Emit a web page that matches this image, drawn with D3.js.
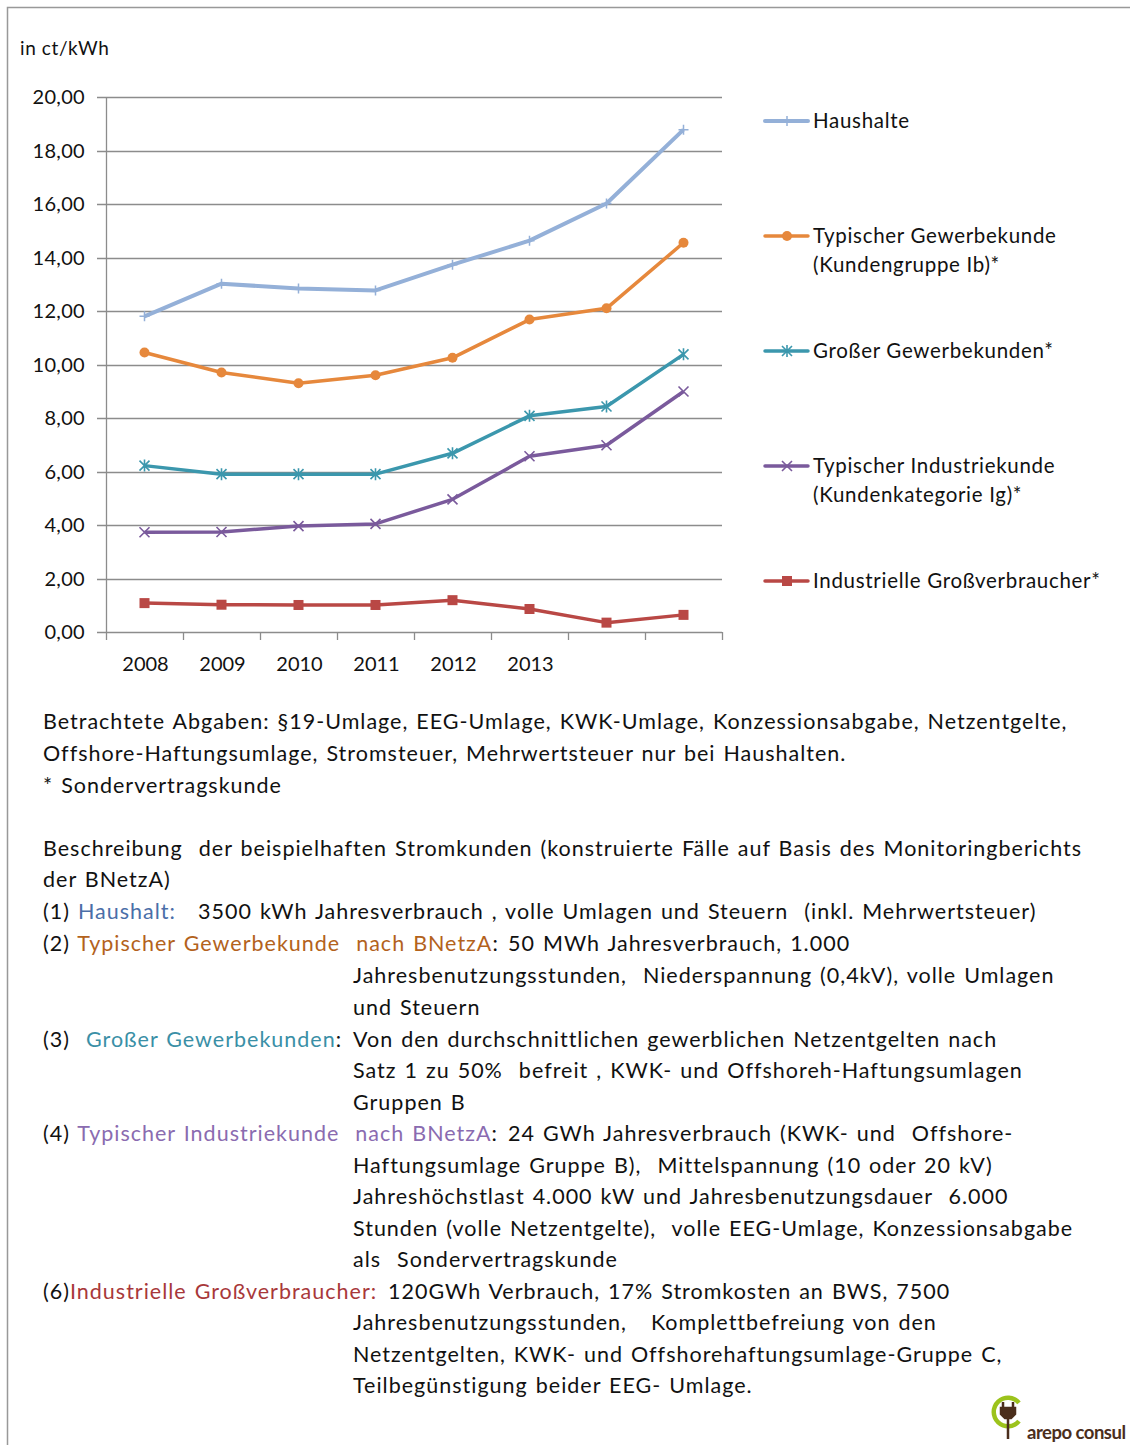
<!DOCTYPE html>
<html>
<head>
<meta charset="utf-8">
<script src="https://cdn.jsdelivr.net/npm/d3@7"></script>
<style>
  body { margin: 0; background: #fff; }
  svg text { font-family: Lato, "Open Sans", sans-serif; fill: #111; white-space: pre; }
</style>
</head>
<body>
<div id="chart"></div>
<script>
// values (ct/kWh)
var years = ["2008", "2009", "2010", "2011", "2012", "2013", "2014", "2015"];
var yearLabels = ["2008", "2009", "2010", "2011", "2012", "2013", "", ""];
var haushalte = [11.8, 13.02, 12.84, 12.77, 13.73, 14.63, 16.02, 18.78];
var gewerbe = [10.45, 9.7, 9.3, 9.6, 10.25, 11.68, 12.1, 14.55];
var grosserGewerbe = [6.22, 5.9, 5.9, 5.9, 6.68, 8.08, 8.43, 10.38];
var industrie = [3.73, 3.74, 3.96, 4.04, 4.96, 6.57, 6.98, 8.99];
var grossverbraucher = [1.08, 1.02, 1.01, 1.01, 1.19, 0.86, 0.35, 0.64];
var yTicks = [0, 2, 4, 6, 8, 10, 12, 14, 16, 18, 20];

var series = [
  {name: ["Haushalte"], values: haushalte, color: "#94b0d8", marker: "plus", width: 4},
  {name: ["Typischer Gewerbekunde", "(Kundengruppe Ib)*"], values: gewerbe, color: "#e6883c", marker: "circle", width: 3.5},
  {name: ["Großer Gewerbekunden*"], values: grosserGewerbe, color: "#3b97ad", marker: "star", width: 3.5},
  {name: ["Typischer Industriekunde", "(Kundenkategorie Ig)*"], values: industrie, color: "#7a5a9c", marker: "x", width: 3.5},
  {name: ["Industrielle Großverbraucher*"], values: grossverbraucher, color: "#b94845", marker: "square", width: 3.5}
];
var legendY = [121, 236, 351, 466, 581];

var W = 1130, H = 1445;
var svg = d3.select("#chart").append("svg")
    .attr("width", W)
    .attr("height", H);

// frame
svg.append("path")
  .attr("d", "M7.5,1445 L7.5,7.5 L1130,7.5")
  .attr("fill", "none")
  .attr("stroke", "#999")
  .attr("stroke-width", 1.5);

var x = d3.scaleBand().domain(years).range([106, 722]);
var y = d3.scaleLinear().domain([0, 20]).range([632, 97]);

// gridlines
svg.append("g")
  .selectAll("line")
  .data(yTicks)
  .enter()
  .append("line")
    .attr("x1", 97)
    .attr("x2", 722)
    .attr("y1", function(d) { return Math.round(y(d)) + 0.5; })
    .attr("y2", function(d) { return Math.round(y(d)) + 0.5; })
    .attr("stroke", "#8c8c8c")
    .attr("stroke-width", 1.3);

// y axis line
svg.append("line")
  .attr("x1", 106.5).attr("x2", 106.5)
  .attr("y1", y(20)).attr("y2", y(0))
  .attr("stroke", "#8c8c8c").attr("stroke-width", 1.3);

// y tick labels
svg.append("g")
  .selectAll("text")
  .data(yTicks)
  .enter()
  .append("text")
    .attr("x", 85)
    .attr("y", function(d) { return y(d) + 7; })
    .attr("text-anchor", "end")
    .style("font-size", "20px")
    .style("letter-spacing", "0.3px")
    .text(function(d) { return d3.format(".2f")(d).replace(".", ","); });

// x ticks at category boundaries
var bounds = years.map(function(d) { return x(d); }).concat([x.range()[1]]);
svg.append("g")
  .selectAll("line")
  .data(bounds)
  .enter()
  .append("line")
    .attr("x1", function(d) { return Math.round(d) + 0.5; })
    .attr("x2", function(d) { return Math.round(d) + 0.5; })
    .attr("y1", y(0))
    .attr("y2", y(0) + 8)
    .attr("stroke", "#8c8c8c").attr("stroke-width", 1.3);

svg.append("g")
  .selectAll("text")
  .data(years)
  .enter()
  .append("text")
    .attr("x", function(d) { return x(d) + x.bandwidth() / 2 + 1; })
    .attr("y", 671)
    .attr("text-anchor", "middle")
    .style("font-size", "20px")
    .text(function(d, i) { return yearLabels[i]; });

svg.append("text")
  .attr("x", 20)
  .attr("y", 55)
  .style("font-size", "19px")
  .style("letter-spacing", "0.6px")
  .text("in ct/kWh");

function drawMarker(g, type, color, cx, cy) {
  if (type == "circle") {
    g.append("circle").attr("cx", cx).attr("cy", cy).attr("r", 5).attr("fill", color);
  } else if (type == "square") {
    g.append("rect").attr("x", cx - 5).attr("y", cy - 5).attr("width", 10).attr("height", 10).attr("fill", color);
  } else if (type == "plus") {
    g.append("path").attr("d", "M" + (cx - 5) + "," + cy + "h10M" + cx + "," + (cy - 5) + "v10")
      .attr("stroke", color).attr("stroke-width", 1.5);
  } else if (type == "x") {
    g.append("path").attr("d", "M" + (cx - 5) + "," + (cy - 5) + "l10,10M" + (cx - 5) + "," + (cy + 5) + "l10,-10")
      .attr("stroke", color).attr("stroke-width", 1.6);
  } else if (type == "star") {
    g.append("path").attr("d", "M" + (cx - 5) + "," + (cy - 5) + "l10,10M" + (cx - 5) + "," + (cy + 5) + "l10,-10M" + cx + "," + (cy - 6) + "v12")
      .attr("stroke", color).attr("stroke-width", 1.6);
  }
}

var line = d3.line()
  .x(function(d, i) { return x(years[i]) + x.bandwidth() / 2; })
  .y(function(d) { return y(d); });

series.forEach(function(s, k) {
  var g = svg.append("g");
  g.append("path")
    .datum(s.values)
    .attr("fill", "none")
    .attr("stroke", s.color)
    .attr("stroke-width", s.width)
    .attr("stroke-linejoin", "round")
    .attr("d", line);
  s.values.forEach(function(v, i) {
    drawMarker(g, s.marker, s.color, x(years[i]) + x.bandwidth() / 2, y(v));
  });

  // legend
  var ly = legendY[k];
  var lg = svg.append("g");
  lg.append("line")
    .attr("x1", 765).attr("x2", 808)
    .attr("y1", ly).attr("y2", ly)
    .attr("stroke", s.color).attr("stroke-width", s.width)
    .attr("stroke-linecap", "round");
  drawMarker(lg, s.marker, s.color, 787, ly);
  s.name.forEach(function(t, j) {
    lg.append("text")
      .attr("x", 813)
      .attr("y", ly + 7 + j * 29)
      .style("font-size", "20.5px")
      .style("letter-spacing", "0.7px")
      .text(t);
  });
});

// notes below the chart
var cBlue = "#4a6ea8", cBrown = "#b3621c", cTeal = "#3a8fa6", cPurple = "#8a6bb0", cRed = "#a8383a";
var notes = [
  {y: 722, parts: [{t: "Betrachtete Abgaben: §19-Umlage, EEG-Umlage, KWK-Umlage, Konzessionsabgabe, Netzentgelte,"}]},
  {y: 754, parts: [{t: "Offshore-Haftungsumlage, Stromsteuer, Mehrwertsteuer nur bei Haushalten."}]},
  {y: 786, parts: [{t: "* Sondervertragskunde"}]},
  {y: 849, parts: [{t: "Beschreibung  der beispielhaften Stromkunden (konstruierte Fälle auf Basis des Monitoringberichts"}]},
  {y: 880, parts: [{t: "der BNetzA)"}]},
  {y: 912, parts: [{t: "(1) "}, {t: "Haushalt:", c: cBlue}, {t: "3500 kWh Jahresverbrauch , volle Umlagen und Steuern  (inkl. Mehrwertsteuer)", x: 198}]},
  {y: 944, parts: [{t: "(2) "}, {t: "Typischer Gewerbekunde  nach BNetzA", c: cBrown}, {t: ":"}, {t: "50 MWh Jahresverbrauch, 1.000", x: 508}]},
  {y: 976, parts: [{t: "Jahresbenutzungsstunden,  Niederspannung (0,4kV), volle Umlagen", x: 353}]},
  {y: 1008, parts: [{t: "und Steuern", x: 353}]},
  {y: 1040, parts: [{t: "(3)  "}, {t: "Großer Gewerbekunden", c: cTeal}, {t: ":"}, {t: "Von den durchschnittlichen gewerblichen Netzentgelten nach", x: 353}]},
  {y: 1071, parts: [{t: "Satz 1 zu 50%  befreit , KWK- und Offshoreh-Haftungsumlagen", x: 353}]},
  {y: 1103, parts: [{t: "Gruppen B", x: 353}]},
  {y: 1134, parts: [{t: "(4) "}, {t: "Typischer Industriekunde  nach BNetzA", c: cPurple}, {t: ":"}, {t: "24 GWh Jahresverbrauch (KWK- und  Offshore-", x: 508}]},
  {y: 1166, parts: [{t: "Haftungsumlage Gruppe B),  Mittelspannung (10 oder 20 kV)", x: 353}]},
  {y: 1197, parts: [{t: "Jahreshöchstlast 4.000 kW und Jahresbenutzungsdauer  6.000", x: 353}]},
  {y: 1229, parts: [{t: "Stunden (volle Netzentgelte),  volle EEG-Umlage, Konzessionsabgabe", x: 353}]},
  {y: 1260, parts: [{t: "als  Sondervertragskunde", x: 353}]},
  {y: 1292, parts: [{t: "(6)"}, {t: "Industrielle Großverbraucher:", c: cRed}, {t: "120GWh Verbrauch, 17% Stromkosten an BWS, 7500", x: 388}]},
  {y: 1323, parts: [{t: "Jahresbenutzungsstunden,   Komplettbefreiung von den", x: 353}]},
  {y: 1355, parts: [{t: "Netzentgelten, KWK- und Offshorehaftungsumlage-Gruppe C,", x: 353}]},
  {y: 1386, parts: [{t: "Teilbegünstigung beider EEG- Umlage.", x: 353}]}
];

notes.forEach(function(n) {
  var tx = svg.append("text")
    .attr("x", 43)
    .attr("y", n.y + 7)
    .style("font-size", "21.5px")
    .style("letter-spacing", "1px")
    .style("word-spacing", "1.5px");
  n.parts.forEach(function(p) {
    var ts = tx.append("tspan").text(p.t);
    if (p.x) ts.attr("x", p.x);
    if (p.c) ts.style("fill", p.c);
  });
});

// logo
var logo = svg.append("g");
logo.append("path")
  .attr("d", d3.arc()({innerRadius: 12, outerRadius: 16.5, startAngle: Math.PI * 0.72, endAngle: Math.PI * 2 + Math.PI * 0.28}))
  .attr("transform", "translate(1008,1412)")
  .attr("fill", "#9cc31c");
logo.append("path")
  .attr("d", "M1003,1402v6M1013,1402v6M1001,1408h14v6l-4,4h-6l-4,-4zM1008,1418v21")
  .attr("stroke", "#4b2e1c")
  .attr("stroke-width", 2.5)
  .attr("fill", "#4b2e1c");
logo.append("text")
  .attr("x", 1027)
  .attr("y", 1439)
  .style("font-size", "18.5px")
  .style("font-weight", "bold")
  .style("fill", "#4b2e1c")
  .style("letter-spacing", "-0.5px")
  .text("arepo consul");
</script>
</body>
</html>
